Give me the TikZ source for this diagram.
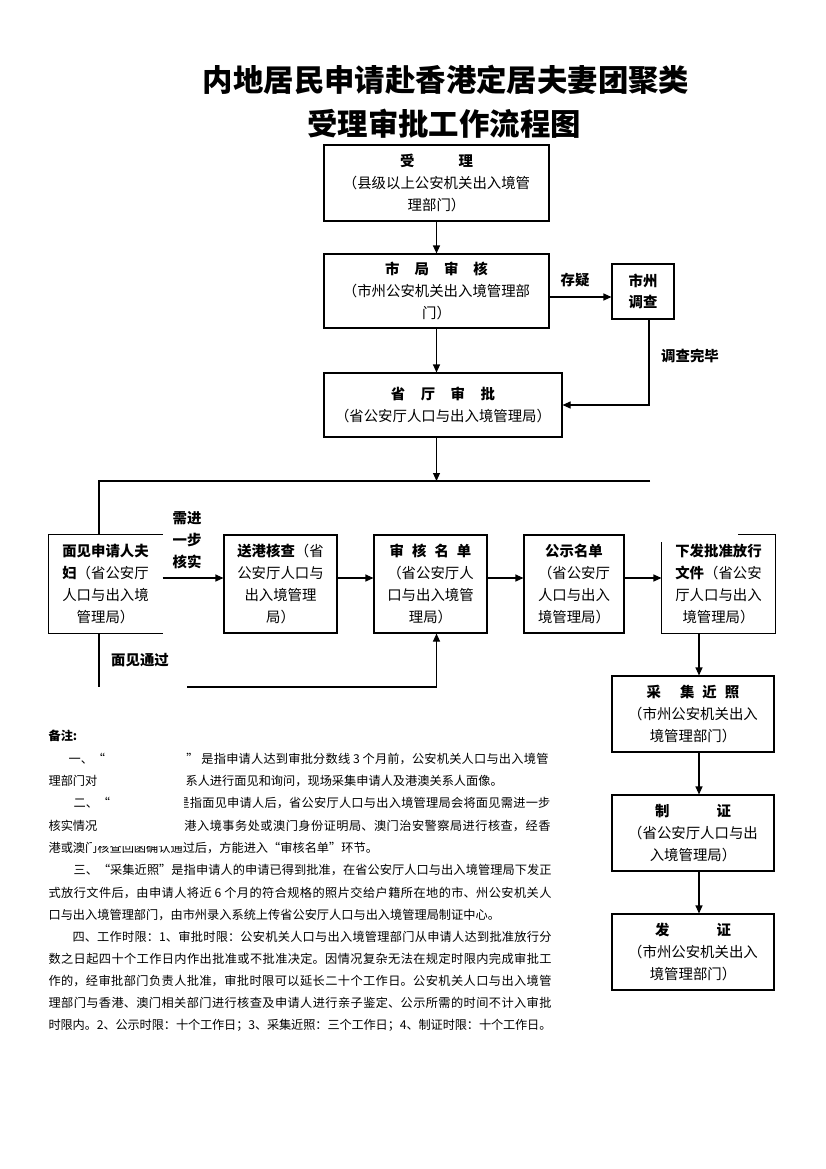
\documentclass[tikz,border=0pt]{standalone}
\usepackage{fontspec}
\setmainfont{Noto Sans CJK SC}
\usetikzlibrary{arrows.meta,calc}
\newcommand\jline[2]{\parbox[b]{#1}{\XeTeXlinebreaklocale "zh"\XeTeXlinebreakskip=0pt plus 4pt minus 0.8pt\parindent=0pt\parfillskip=0pt\relax #2}}
\begin{document}
\begin{tikzpicture}[x=1pt,y=-1pt,
  font=\fontsize{14.4}{22}\selectfont,
  line width=1.1pt,
  box/.style={draw, inner sep=0pt, align=center},
  open/.style={inner sep=0pt, align=center},
  lbl/.style={inner sep=0pt, align=center, font=\fontsize{14.4}{22}\selectfont\bfseries},
  ttl/.style={inner sep=0pt, font=\fontsize{30.4}{32}\selectfont\bfseries},
  note/.style={inner sep=0pt, font=\fontsize{12.2}{14}\selectfont},
  arr/.style={-{Triangle[length=8pt,width=7pt]}}]
\useasboundingbox (0,0) rectangle (826,1169);

% titles
\node[ttl] (t1) at (446,80) {内地居民申请赴香港定居夫妻团聚类};
\node[ttl] (t2) at (444,124) {受理审批工作流程图};

% main column
\node[box, minimum width=225pt, minimum height=76pt] (sl) at (436.5,183)
  {\textbf{受\hspace{44pt}理}\\（县级以上公安机关出入境管\\理部门）};
\node[box, minimum width=225pt, minimum height=74pt] (sj) at (436.5,291)
  {\textbf{市\hspace{15pt}局\hspace{15pt}审\hspace{15pt}核}\\（市州公安机关出入境管理部\\门）};
\node[box, minimum width=62pt, minimum height=55pt, font=\fontsize{14.4}{21}\selectfont\bfseries] (dc) at (643,291.5)
  {市州\\调查};
\node[box, minimum width=238pt, minimum height=64pt] (st) at (443,405)
  {\textbf{省\hspace{15.5pt}厅\hspace{15.5pt}审\hspace{15.5pt}批}\\（省公安厅人口与出入境管理局）};

% row
\node[open, minimum width=113pt, minimum height=98pt] (mj) at (105.5,584)
  {\textbf{面见申请人夫}\\\textbf{妇}（省公安厅\\人口与出入境\\管理局）};
\node[box, minimum width=113pt, minimum height=98pt] (sg) at (280.5,584)
  {\textbf{送港核查}（省\\公安厅人口与\\出入境管理\\局）};
\node[box, minimum width=113pt, minimum height=98pt] (sh) at (430.5,584)
  {\textbf{审\hspace{8pt}核\hspace{8pt}名\hspace{8pt}单}\\（省公安厅人\\口与出入境管\\理局）};
\node[box, minimum width=100pt, minimum height=98pt] (gs) at (574,584)
  {\textbf{公示名单}\\（省公安厅\\人口与出入\\境管理局）};
\node[open, minimum width=113pt, minimum height=98pt] (xf) at (718.5,584)
  {\textbf{下发批准放行}\\\textbf{文件}（省公安\\厅人口与出入\\境管理局）};

% right column
\node[box, minimum width=162pt, minimum height=76pt] (cj) at (693,714)
  {\textbf{采\hspace{19pt}集\hspace{8pt}近\hspace{8pt}照}\\（市州公安机关出入\\境管理部门）};
\node[box, minimum width=162pt, minimum height=76pt] (zz) at (693,833)
  {\textbf{制\hspace{47pt}证}\\（省公安厅人口与出\\入境管理局）};
\node[box, minimum width=162pt, minimum height=76pt] (fz) at (693,952)
  {\textbf{发\hspace{47pt}证}\\（市州公安机关出入\\境管理部门）};

% open boxes
\draw (mj.north east) -- (mj.north west) -- (mj.south west) -- (mj.south east);
\draw ($(xf.north west)+(0,8)$) -- (xf.south west) -- (xf.south east) -- (xf.north east) -- ($(xf.north east)+(-38,0)$);

% connectors
\draw[arr] (sl) -- (sj);
\draw[arr] (sj.south) -- (st.north -| sj.south);
\coordinate (p) at ($(sj.east)+(0,6)$);
\draw[arr] (p) -- (p -| dc.west);
\coordinate (q) at ($(dc.south)+(6,0)$);
\draw[arr] (q) |- (st.east);
\coordinate (hl) at (99,481);
\coordinate (hr) at (650,481);
\draw[arr] (st.south -| sl.south) -- (hl -| sl.south);
\draw (hr) -- (hl) -- (hl |- mj.north);
\coordinate (bl) at (99,687);
\coordinate (br) at (187,687);
\draw (hl |- mj.south) -- (bl);
\draw[arr] (br) -- (br -| sl.south) -- (sh.south -| sl.south);
\draw[arr] ([yshift=6pt]mj.east) -- ([yshift=6pt]sg.west);
\draw[arr] ([yshift=6pt]sg.east) -- ([yshift=6pt]sh.west);
\draw[arr] ([yshift=6pt]sh.east) -- ([yshift=6pt]gs.west);
\draw[arr] ([yshift=6pt]gs.east) -- ([yshift=6pt]xf.west);
\coordinate (ax) at (699,0);
\draw[arr] (xf.south -| ax) -- (cj.north -| ax);
\draw[arr] (cj.south -| ax) -- (zz.north -| ax);
\draw[arr] (zz.south -| ax) -- (fz.north -| ax);

% labels
\node[lbl] (l1) at (575,280) {存疑};
\node[lbl] (l2) at (690,356) {调查完毕};
\node[lbl] (l3) at (187,540) {需进\\一步\\核实};
\node[lbl] (l4) at (140,660) {面见通过};

% notes
\node[note, anchor=base west, font=\fontsize{12.2}{14}\selectfont\bfseries] (n0) at (48,740) {备注:};
\node[note, anchor=base east] (n3b) at (551,807) {\jline{373pt}{是指面见申请人后，省公安厅人口与出入境管理局会将面见需进一步}};
\node[note, anchor=base west] (n5) at (48,852) {港或澳门核查回函确认通过后，方能进入“审核名单”环节。};
\fill[white] (92,745) rectangle (184,846);
\node[note, anchor=base west] (n1a) at (68,763) {一、“};
\node[note, anchor=base east] (n1b) at (549,763) {\jline{362pt}{” 是指申请人达到审批分数线 3 个月前，公安机关人口与出入境管}};
\node[note, anchor=base west] (n2a) at (48,785) {理部门对};
\node[note, anchor=base west] (n2b) at (185,785) {系人进行面见和询问，现场采集申请人及港澳关系人面像。};
\node[note, anchor=base west] (n3a) at (73,807) {二、“};
\node[note, anchor=base west] (n4a) at (48,830) {核实情况};
\node[note, anchor=base east] (n4b) at (551,830) {\jline{366pt}{港入境事务处或澳门身份证明局、澳门治安警察局进行核查，经香}};
\node[note, anchor=base west] (n6) at (73,874) {\jline{478pt}{三、“采集近照”是指申请人的申请已得到批准，在省公安厅人口与出入境管理局下发正}};
\node[note, anchor=base west] (n7) at (48,897) {\jline{503pt}{式放行文件后，由申请人将近 6 个月的符合规格的照片交给户籍所在地的市、州公安机关人}};
\node[note, anchor=base west] (n8) at (48,919) {口与出入境管理部门，由市州录入系统上传省公安厅人口与出入境管理局制证中心。};
\node[note, anchor=base west] (n9) at (72,941) {\jline{479pt}{四、工作时限：1、审批时限：公安机关人口与出入境管理部门从申请人达到批准放行分}};
\node[note, anchor=base west] (n10) at (48,963) {\jline{503pt}{数之日起四十个工作日内作出批准或不批准决定。因情况复杂无法在规定时限内完成审批工}};
\node[note, anchor=base west] (n11) at (48,985) {\jline{503pt}{作的，经审批部门负责人批准，审批时限可以延长二十个工作日。公安机关人口与出入境管}};
\node[note, anchor=base west] (n12) at (48,1007) {\jline{503pt}{理部门与香港、澳门相关部门进行核查及申请人进行亲子鉴定、公示所需的时间不计入审批}};
\node[note, anchor=base west] (n13) at (48,1029) {\jline{503pt}{时限内。2、公示时限：十个工作日；3、采集近照：三个工作日；4、制证时限：十个工作日。}};
\end{tikzpicture}
\end{document}
